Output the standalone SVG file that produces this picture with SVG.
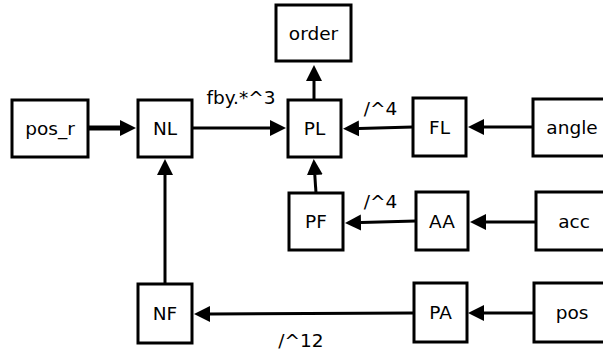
<svg xmlns="http://www.w3.org/2000/svg" width="603" height="354" viewBox="0 0 603 354">
<defs>
<style>
.n rect{fill:#fff;stroke:#000;stroke-width:3}
text{font-family:"DejaVu Sans",sans-serif;font-size:18.5px;fill:#000}
.n text{text-anchor:middle}
.e line{stroke:#000;stroke-width:3;marker-end:url(#ah)}
.lbl{text-anchor:middle}
</style>
<marker id="ah" markerUnits="userSpaceOnUse" markerWidth="20" markerHeight="20" viewBox="0 -10 20 20" refX="0" refY="0" orient="auto">
<path d="M0,-8 L16,0 L0,8 Z" fill="#000"/>
</marker>
</defs>
<rect width="603" height="354" fill="#fff"/>
<g id="edges" class="e">
<line x1="88" y1="128" x2="120" y2="128" style="stroke-width:5"/>
<line x1="192" y1="128" x2="270" y2="128"/>
<line x1="314" y1="100" x2="314" y2="81"/>
<line x1="413" y1="127" x2="359" y2="128.4"/>
<line x1="533" y1="127" x2="484" y2="127"/>
<line x1="316" y1="193" x2="314.8" y2="175"/>
<line x1="416" y1="221" x2="361" y2="222.5"/>
<line x1="536" y1="222" x2="486" y2="222"/>
<line x1="165" y1="284" x2="165" y2="175"/>
<line x1="414" y1="313" x2="210" y2="313.9"/>
<line x1="534" y1="313" x2="484" y2="313"/>
<text class="lbl" x="241" y="104">fby.*^3</text>
<text class="lbl" x="380.5" y="115">/^4</text>
<text class="lbl" x="380.5" y="208">/^4</text>
<text class="lbl" x="301" y="347">/^12</text>
</g>
<g id="order" class="n"><rect x="276" y="5" width="75" height="56"/><text x="313.5" y="40">order</text></g>
<g id="pos_r" class="n"><rect x="12" y="100" width="76" height="57"/><text x="50" y="135">pos_r</text></g>
<g id="NL" class="n"><rect x="138" y="100" width="54" height="57"/><text x="165" y="135">NL</text></g>
<g id="PL" class="n"><rect x="288" y="100" width="53" height="57"/><text x="314.5" y="135">PL</text></g>
<g id="FL" class="n"><rect x="413" y="98" width="53" height="58"/><text x="439.5" y="134">FL</text></g>
<g id="angle" class="n"><rect x="533" y="99" width="80" height="57"/><text x="572" y="134">angle</text></g>
<g id="PF" class="n"><rect x="289" y="193" width="54" height="57"/><text x="316" y="228">PF</text></g>
<g id="AA" class="n"><rect x="416" y="192" width="52" height="58"/><text x="442" y="228">AA</text></g>
<g id="acc" class="n"><rect x="536" y="192" width="80" height="58"/><text x="574" y="228">acc</text></g>
<g id="NF" class="n"><rect x="138" y="284" width="54" height="59"/><text x="165" y="320">NF</text></g>
<g id="PA" class="n"><rect x="414" y="283" width="53" height="59"/><text x="440.5" y="319">PA</text></g>
<g id="pos" class="n"><rect x="534" y="283" width="80" height="59"/><text x="572" y="319">pos</text></g>
</svg>
